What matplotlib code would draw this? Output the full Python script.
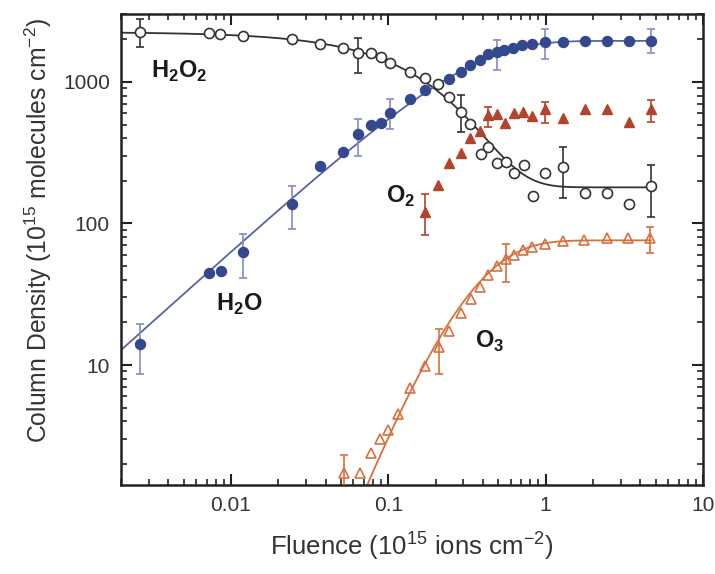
import numpy as np
import matplotlib
matplotlib.use("Agg")
import matplotlib.pyplot as plt
from matplotlib.ticker import LogLocator, NullFormatter, FixedLocator, FixedFormatter

plt.rcParams['font.family'] = ['Liberation Sans', 'DejaVu Sans']
plt.rcParams['mathtext.fontset'] = 'custom'
plt.rcParams['mathtext.rm'] = 'Liberation Sans'
plt.rcParams['mathtext.bf'] = 'Liberation Sans:bold'

# ---------------- data ----------------
# H2O2 (open circles)
h2o2_x = [0.00266, 0.00727, 0.0085, 0.0119, 0.0244, 0.0369, 0.0515, 0.0642, 0.0776, 0.0902,
          0.103, 0.138, 0.172, 0.206, 0.242, 0.288, 0.330, 0.386, 0.432, 0.493, 0.556, 0.628,
          0.728, 0.830, 0.986, 1.28, 1.77, 2.47, 3.39, 4.67]
h2o2_y = [2265, 2210, 2185, 2124, 2005, 1866, 1739, 1596, 1596, 1510,
          1369, 1183, 1062, 968, 780, 617, 502, 310, 345, 266, 273, 229,
          259, 156, 229, 250, 165, 163, 137, 184]
h2o2_err_x = [0.00266, 0.0642, 0.288, 1.28, 4.67]
h2o2_err_y = [2265, 1596, 617, 250, 184]
h2o2_err_lo = [1757, 1152, 446, 151, 112]
h2o2_err_hi = [2780, 2037, 810, 349, 259]

# H2O (filled circles)
h2o_x = [0.00266, 0.00727, 0.0086, 0.0119, 0.0244, 0.0369, 0.0515, 0.0642, 0.0776, 0.0902,
         0.103, 0.138, 0.172, 0.242, 0.288, 0.330, 0.382, 0.430, 0.488, 0.544, 0.622,
         0.711, 0.815, 0.986, 1.28, 1.77, 2.47, 3.39, 4.67]
h2o_y = [14.1, 44.9, 46.1, 62.7, 137, 255, 321, 427, 497, 511,
         601, 755, 878, 1045, 1183, 1319, 1430, 1570, 1637, 1683, 1747,
         1825, 1846, 1926, 1926, 1950, 1950, 1960, 1960]
h2o_err_x = [0.00266, 0.0119, 0.0244, 0.0642, 0.103, 0.488, 0.986, 4.67]
h2o_err_y = [14.1, 62.7, 137, 427, 601, 1637, 1926, 1960]
h2o_err_lo = [8.7, 41.4, 91, 301, 464, 1216, 1455, 1611]
h2o_err_hi = [19.5, 84, 184, 545, 755, 1982, 2371, 2371]

# O2 (filled triangles)
o2_x = [0.170, 0.206, 0.242, 0.288, 0.330, 0.382, 0.430, 0.493, 0.551, 0.628, 0.716,
        0.822, 0.986, 1.28, 1.77, 2.47, 3.39, 4.67]
o2_y = [121, 187, 266, 316, 404, 453, 585, 594, 515, 607, 617,
        575, 641, 554, 641, 641, 524, 641]
o2_err_x = [0.170, 0.430, 0.986, 4.67]
o2_err_y = [121, 585, 641, 641]
o2_err_lo = [83, 483, 511, 519]
o2_err_hi = [162, 670, 719, 746]

# O3 (open triangles)
o3_x = [0.0519, 0.0664, 0.0780, 0.0880, 0.100, 0.115, 0.138, 0.170, 0.209, 0.242, 0.288, 0.333,
        0.380, 0.430, 0.493, 0.556, 0.628, 0.716, 0.822, 0.986, 1.28, 1.75, 2.47, 3.34, 4.62]
o3_y = [1.72, 1.72, 2.4, 3.0, 3.5, 4.5, 6.84, 9.9, 13.5, 17.4, 23.2, 29.2,
        35.7, 43.2, 50.3, 55.8, 59.8, 65, 67.9, 71.6, 75.2, 76.4, 78.5, 78.5, 78.5]
o3_err_x = [0.0519, 0.209, 0.556, 4.62]
o3_err_y = [1.72, 13.5, 55.8, 78.5]
o3_err_lo = [1.0, 8.7, 38.8, 62]
o3_err_hi = [2.3, 18.1, 71.3, 94]

# fit parameters
h2o2_n0, h2o2_ninf, h2o2_sigma = 2250.0, 180.0, 5.4
h2o_nsat, h2o_sigma = 1950.0, 3.28
o3_nsat, o3_sigma, o3_order = 76.0, 4.2, 3

x_ticks = [0.01, 0.1, 1, 10]
x_ticklabels = ['0.01', '0.1', '1', '10']
y_ticks = [10, 100, 1000]
y_ticklabels = ['10', '100', '1000']

# ---------------- colours ----------------
c_h2o2 = '#333333'
c_h2o = '#34488e'
c_h2o_err = '#8a8ac4'
c_o2 = '#b3432a'
c_o3 = '#d8703e'

fig = plt.figure(figsize=(7.15, 5.74), dpi=100)
ax = fig.add_axes([121/715, 1 - 485/574, (703-121)/715, (485-14)/574])
ax.set_xscale('log')
ax.set_yscale('log')
ax.set_xlim(0.002, 10)
ax.set_ylim(1.42, 3020)

F = np.logspace(np.log10(0.002), np.log10(4.67), 400)

# fit curves
h2o2_fit = h2o2_ninf + (h2o2_n0 - h2o2_ninf) * np.exp(-h2o2_sigma * F)
h2o_fit = h2o_nsat * (1 - np.exp(-h2o_sigma * F))
o3_fit = o3_nsat * (1 - np.exp(-o3_sigma * F)) ** o3_order
ax.plot(F, h2o2_fit, color=c_h2o2, lw=1.3, zorder=2)
ax.plot(F, h2o_fit, color='#5564a8', lw=1.3, zorder=2)
ax.plot(F, o3_fit, color=c_o3, lw=1.3, zorder=2)

def errs(x, y, lo, hi, color):
    y = np.array(y); lo = np.array(lo); hi = np.array(hi)
    ax.errorbar(x, y, yerr=[y - lo, hi - y], fmt='none', ecolor=color,
                elinewidth=1.2, capsize=3.2, capthick=1.2, zorder=3)

errs(h2o2_err_x, h2o2_err_y, h2o2_err_lo, h2o2_err_hi, c_h2o2)
errs(h2o_err_x, h2o_err_y, h2o_err_lo, h2o_err_hi, c_h2o_err)
errs(o2_err_x, o2_err_y, o2_err_lo, o2_err_hi, c_o2)
errs(o3_err_x, o3_err_y, o3_err_lo, o3_err_hi, c_o3)

ax.plot(h2o2_x, h2o2_y, 'o', ms=7.2, mfc='white', mec=c_h2o2, mew=1.2, zorder=4)
ax.plot(h2o_x, h2o_y, 'o', ms=7.2, mfc=c_h2o, mec=c_h2o, zorder=4)
ax.plot(o2_x, o2_y, '^', ms=7.8, mfc=c_o2, mec=c_o2, zorder=4)
ax.plot(o3_x, o3_y, '^', ms=7.8, mfc='none', mec=c_o3, mew=1.2, zorder=4)

# labels of species
kw = dict(fontsize=17, fontweight='bold', color='#1a1a1a')
ax.text(0.0031, 1067, r'H$_\mathbf{2}$O$_\mathbf{2}$', **kw)
ax.text(0.0080, 24, r'H$_\mathbf{2}$O', **kw)
ax.text(0.096, 140, r'O$_\mathbf{2}$', **kw)
ax.text(0.353, 13.2, r'O$_\mathbf{3}$', **kw)

# axes styling
for s in ax.spines.values():
    s.set_linewidth(1.8)
    s.set_color('#222222')
ax.xaxis.set_major_locator(FixedLocator(x_ticks))
ax.xaxis.set_major_formatter(FixedFormatter(x_ticklabels))
ax.yaxis.set_major_locator(FixedLocator(y_ticks))
ax.yaxis.set_major_formatter(FixedFormatter(y_ticklabels))
ax.xaxis.set_minor_locator(LogLocator(base=10, subs=np.arange(2, 10), numticks=20))
ax.yaxis.set_minor_locator(LogLocator(base=10, subs=np.arange(2, 10), numticks=20))
ax.xaxis.set_minor_formatter(NullFormatter())
ax.yaxis.set_minor_formatter(NullFormatter())
ax.tick_params(which='both', direction='in', top=True, right=True, colors='#222222',
               labelcolor='#333333')
ax.tick_params(which='major', length=8, width=1.5, labelsize=15, pad=8)
ax.tick_params(which='minor', length=4, width=1.2)

ax.set_xlabel(r'Fluence (10$^{15}$ ions cm$^{-2}$)', fontsize=18.5, color='#333333', labelpad=10)
ax.set_ylabel(r'Column Density (10$^{15}$ molecules cm$^{-2}$)', fontsize=17.8, color='#333333')
ax.yaxis.set_label_coords(-0.115, 0.54)

fig.savefig('out.png', dpi=100)
